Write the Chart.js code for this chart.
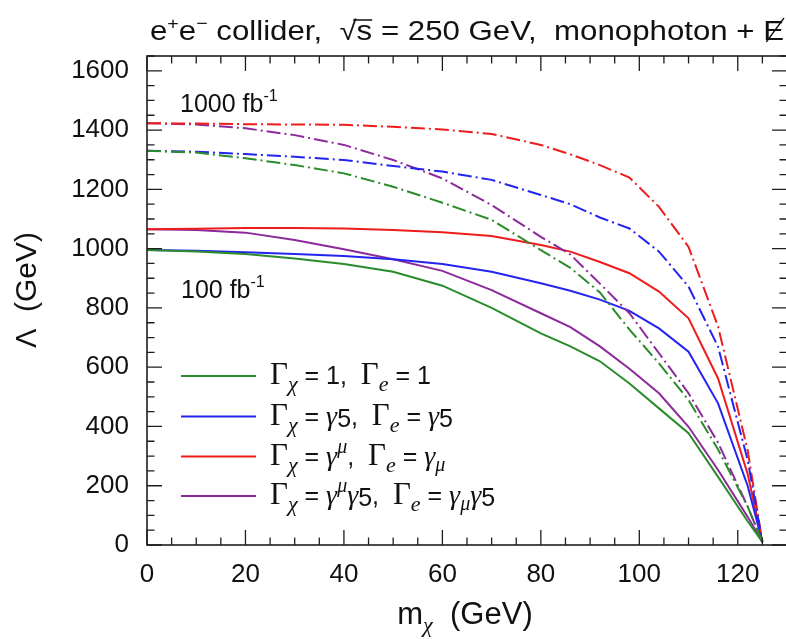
<!DOCTYPE html>
<html><head><meta charset="utf-8">
<script src="https://cdn.jsdelivr.net/npm/chart.js@4/dist/chart.umd.min.js"></script>
<style>
html,body{margin:0;padding:0;background:#fff;overflow:hidden;width:786px;height:639px}
#wrap{position:relative;width:792px;height:639px}
</style>
</head><body><div id="wrap"><canvas id="c" width="792" height="639"></canvas></div>
<script>
// ---- data ----
const masses = [0,10,20,30,40,50,60,70,80,86,92,98,104,110,116,122,125];
// 100 fb^-1 (solid)
const scalar100 = [995,990,982,967,948,922,875,800,714,670,620,545,461,377,230,80,10];
const pseudo100 = [995,993,988,982,975,964,948,922,883,858,828,790,731,652,478,200,10];
const vector100 = [1065,1067,1070,1070,1068,1063,1055,1043,1012,990,955,917,855,765,562,240,10];
const axial100  = [1065,1063,1054,1029,998,964,925,860,782,735,670,595,512,399,253,95,10];
// 1000 fb^-1 (dash-dot)
const scalar1000 = [1330,1324,1305,1282,1254,1209,1155,1097,995,935,852,727,613,489,322,130,10];
const pseudo1000 = [1330,1327,1319,1310,1299,1279,1260,1232,1181,1150,1105,1068,990,872,669,287,10];
const vector1000 = [1423,1422,1420,1419,1418,1411,1402,1387,1350,1318,1282,1240,1141,1006,737,320,10];
const axial1000  = [1423,1419,1406,1383,1350,1299,1237,1147,1040,980,882,782,647,512,345,130,10];

const xTickValues = [0,20,40,60,80,100,120];
const yTickValues = [0,200,400,600,800,1000,1200,1400,1600];
const seriesColors = ['#2a8c2a','#2424f0','#ee1c1c','#8c2a9c'];
const lumiLabels = ['1000 fb', '100 fb'];

const SANS = '"Liberation Sans", Arial, Helvetica, sans-serif';
const SERIF = '"Liberation Serif", "Times New Roman", serif';

function pts(ys){ return masses.map((m,i)=>({x:m,y:ys[i]})); }
const solid = [scalar100,pseudo100,vector100,axial100];
const dashed = [scalar1000,pseudo1000,vector1000,axial1000];
const datasets = [];
dashed.forEach((d,i)=>datasets.push({data:pts(d),borderColor:seriesColors[i],borderWidth:2,borderDash:[14,4,2,4],pointRadius:0,fill:false}));
solid.forEach((d,i)=>datasets.push({data:pts(d),borderColor:seriesColors[i],borderWidth:2,pointRadius:0,fill:false}));

function rich(ctx, parts){
  let w=0; for(const p of parts){ctx.font=p.f; w+=ctx.measureText(p.t).width;} return w;
}
function drawRich(ctx, x, y, parts, sx){
  sx = sx||1;
  ctx.save(); ctx.translate(x,y); ctx.scale(sx,1);
  let cx=0;
  for(const p of parts){ ctx.font=p.f; ctx.fillText(p.t,cx,p.dy||0); p._x=cx; p._w=ctx.measureText(p.t).width; cx+=p._w; }
  ctx.restore(); return cx*sx;
}

const deco = {
  id:'deco',
  afterDraw(chart){
    const ctx=chart.ctx, xs=chart.scales.x, ys=chart.scales.y, a=chart.chartArea;
    ctx.save();
    // frame
    ctx.strokeStyle='#1e1e1e'; ctx.lineWidth=1.6;
    ctx.strokeRect(a.left, a.top, a.right-a.left, a.bottom-a.top);
    // ticks
    ctx.lineWidth=1.3; ctx.beginPath();
    for(let v=0; v<=130; v+=5){
      const px=xs.getPixelForValue(v); const L=(v%20===0)?15:7.5;
      ctx.moveTo(px,a.bottom); ctx.lineTo(px,a.bottom-L);
      ctx.moveTo(px,a.top); ctx.lineTo(px,a.top+L);
    }
    for(let v=0; v<=1650; v+=50){
      const py=ys.getPixelForValue(v); const L=(v%200===0)?15:7.5;
      ctx.moveTo(a.left,py); ctx.lineTo(a.left+L,py);
      ctx.moveTo(a.right,py); ctx.lineTo(a.right-L,py);
    }
    ctx.stroke();

    ctx.fillStyle='#111'; ctx.textBaseline='alphabetic'; ctx.textAlign='left';
    // title
    const T=27, Ts=17;
    const tparts=[
      {t:'e',f:`${T}px ${SANS}`},{t:'+',f:`${Ts}px ${SANS}`,dy:-11},
      {t:'e',f:`${T}px ${SANS}`},{t:'\u2212',f:`${Ts}px ${SANS}`,dy:-11},
      {t:' collider,  ',f:`${T}px ${SANS}`},
      {t:'\u221A',f:`${T}px ${SANS}`},{t:'s',f:`${T}px ${SANS}`},
      {t:' = 250 GeV,  monophoton + ',f:`${T}px ${SANS}`},
      {t:'E',f:`${T}px ${SANS}`}
    ];
    const tw=rich(ctx,tparts);
    const sx=(784-150)/tw;
    drawRich(ctx,150,40,tparts,sx);
    ctx.strokeStyle='#111'; ctx.lineWidth=1.3; ctx.beginPath();
    const sq=tparts[5], sp=tparts[6], ep=tparts[8];
    ctx.moveTo(150+(sq._x+sq._w*0.8)*sx, 20); ctx.lineTo(150+(sp._x+sp._w)*sx, 20);
    ctx.moveTo(150+(ep._x+ep._w*0.15)*sx, 42); ctx.lineTo(150+(ep._x+ep._w*1.0)*sx, 18);
    ctx.stroke();

    // luminosity annotations
    [[lumiLabels[0],180,112],[lumiLabels[1],181,298]].forEach(([s,x,y])=>{
      drawRich(ctx,x,y,[{t:s,f:`25px ${SANS}`},{t:'-1',f:`16px ${SANS}`,dy:-11}]);
    });

    // legend
    const G=`31px ${SERIF}`, Gi=`italic 22px ${SERIF}`, N=`25px ${SANS}`, gi=`italic 28px ${SERIF}`, mu=`italic 20px ${SERIF}`;
    const legendRows=[
      [{t:'\u0393',f:G},{t:'\u03C7',f:Gi,dy:7},{t:' = 1,  ',f:N},{t:'\u0393',f:G},{t:'e',f:Gi,dy:7},{t:' = 1',f:N}],
      [{t:'\u0393',f:G},{t:'\u03C7',f:Gi,dy:7},{t:' = ',f:N},{t:'\u03B3',f:gi},{t:'5',f:N,dy:2},{t:',  ',f:N},{t:'\u0393',f:G},{t:'e',f:Gi,dy:7},{t:' = ',f:N},{t:'\u03B3',f:gi},{t:'5',f:N,dy:2}],
      [{t:'\u0393',f:G},{t:'\u03C7',f:Gi,dy:7},{t:' = ',f:N},{t:'\u03B3',f:gi},{t:'\u03BC',f:mu,dy:-12},{t:',  ',f:N},{t:'\u0393',f:G},{t:'e',f:Gi,dy:7},{t:' = ',f:N},{t:'\u03B3',f:gi},{t:'\u03BC',f:mu,dy:6}],
      [{t:'\u0393',f:G},{t:'\u03C7',f:Gi,dy:7},{t:' = ',f:N},{t:'\u03B3',f:gi},{t:'\u03BC',f:mu,dy:-12},{t:'\u03B3',f:gi},{t:'5',f:N,dy:2},{t:',  ',f:N},{t:'\u0393',f:G},{t:'e',f:Gi,dy:7},{t:' = ',f:N},{t:'\u03B3',f:gi},{t:'\u03BC',f:mu,dy:6},{t:'\u03B3',f:gi},{t:'5',f:N,dy:2}]
    ];
    const rowsY=[376,416.5,456.5,496];
    legendRows.forEach((parts,i)=>{
      ctx.strokeStyle=seriesColors[i]; ctx.lineWidth=2;
      ctx.beginPath(); ctx.moveTo(181,rowsY[i]); ctx.lineTo(256,rowsY[i]); ctx.stroke();
      drawRich(ctx,270,rowsY[i]+8,parts);
    });

    // axis titles
    const xparts=[{t:'m',f:`31px ${SANS}`},{t:'\u03C7',f:`italic 22px ${SERIF}`,dy:8},{t:'  (GeV)',f:`31px ${SANS}`}];
    const xw=rich(ctx,xparts);
    drawRich(ctx,465-xw/2,624,xparts);
    const yparts=[{t:'\u039B',f:`29px ${SANS}`},{t:'  (GeV)',f:`30px ${SANS}`}];
    const yw=rich(ctx,yparts);
    ctx.save(); ctx.translate(36,290); ctx.rotate(-Math.PI/2);
    drawRich(ctx,-yw/2,0,yparts);
    ctx.restore();
    ctx.restore();
  }
};

new Chart(document.getElementById('c'),{
  type:'line',
  data:{datasets},
  options:{
    responsive:false, animation:false, devicePixelRatio:1,
    layout:{padding:{top:56,right:5,left:0,bottom:0}},
    plugins:{legend:{display:false},tooltip:{enabled:false},title:{display:false}},
    elements:{line:{tension:0},point:{radius:0}},
    scales:{
      x:{type:'linear',min:0,max:130,
        afterFit(s){s.height=94;},
        afterBuildTicks(s){s.ticks=xTickValues.map(v=>({value:v}));},
        grid:{display:false,drawTicks:false},border:{display:false},
        ticks:{padding:14,color:'#111',maxRotation:0,autoSkip:false,font:{family:SANS,size:26},callback:v=>String(v)}},
      y:{type:'linear',min:0,max:1650,
        afterFit(s){s.width=147;},
        afterBuildTicks(s){s.ticks=yTickValues.map(v=>({value:v}));},
        grid:{display:false,drawTicks:false},border:{display:false},
        ticks:{padding:18,color:'#111',autoSkip:false,font:{family:SANS,size:26},callback:v=>String(v)}}
    }
  },
  plugins:[deco]
});
</script>
</body></html>
